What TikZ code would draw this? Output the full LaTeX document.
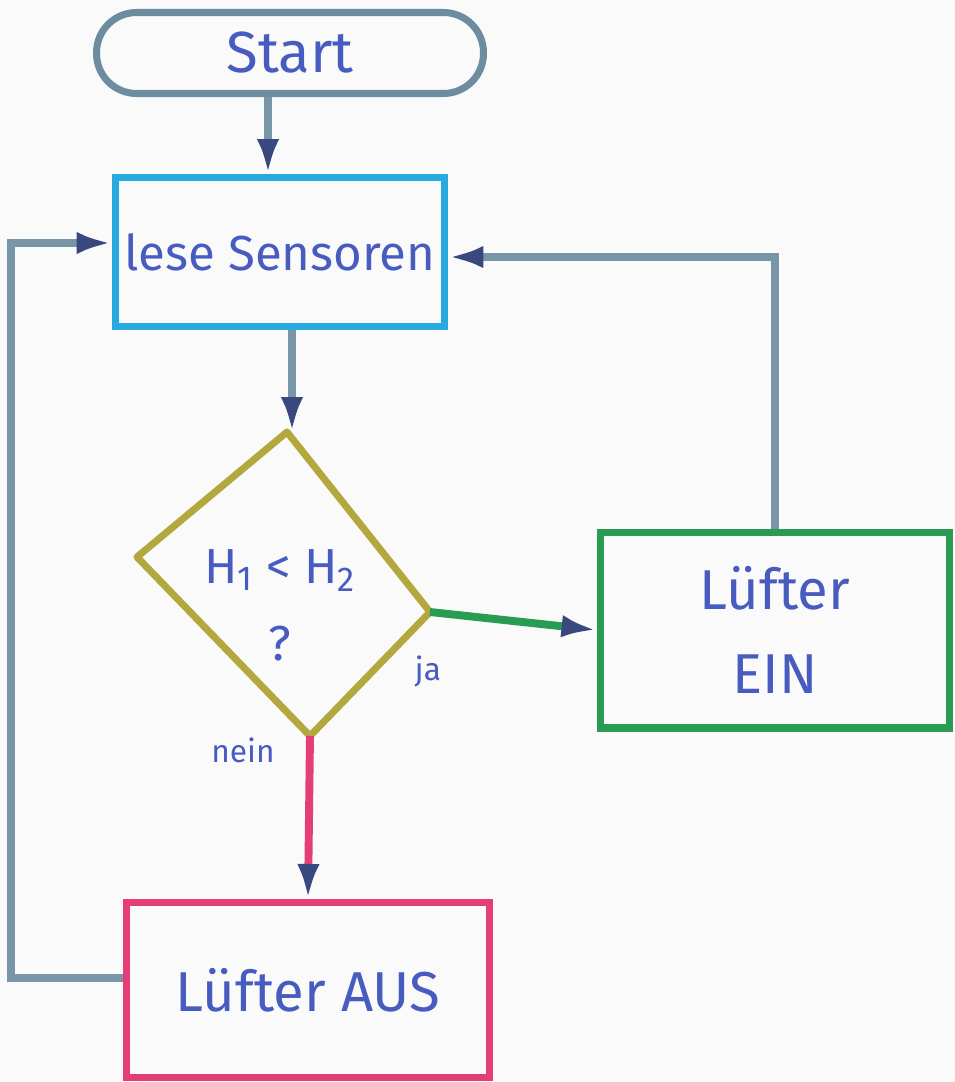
\documentclass[tikz,border=0pt]{standalone}
\usepackage{fontspec}
\setmainfont{Fira Sans}
\usetikzlibrary{arrows.meta,calc}
\definecolor{linec}{RGB}{120,150,168}
\definecolor{tipc}{RGB}{58,72,128}
\definecolor{startc}{RGB}{110,140,160}
\definecolor{lesec}{RGB}{40,170,225}
\definecolor{diac}{RGB}{178,168,62}
\definecolor{einc}{RGB}{42,155,82}
\definecolor{ausc}{RGB}{228,62,120}
\definecolor{inkc}{RGB}{72,92,192}
\begin{document}
\begin{tikzpicture}[x=0.02cm,y=-0.02cm,
  ink/.style={text=inkc,font=\fontsize{28}{34}\selectfont},
  boxc/.style={draw=#1,line width=4pt,rectangle,ink,align=center,inner sep=0pt},
  conn/.style={draw=linec,line width=4.5pt,-{Latex[length=0.7cm,width=0.45cm,color=tipc]}},
  lbl/.style={text=inkc,font=\fontsize{18}{22}\selectfont}]
\useasboundingbox (0,0) rectangle (955,1082);
\fill[white!96!gray] (0,0) rectangle (955,1082);
% nodes
\node[boxc=startc,rounded corners=0.8cm,minimum width=7.74cm,minimum height=1.62cm,font=\fontsize{33}{38}\selectfont] (start) at (290,53) {Start};
\node[boxc=lesec,minimum width=6.6cm,minimum height=2.98cm] (lese) at (280,252) {lese Sensoren};
\coordinate (dt) at (287,432);
\coordinate (dr) at (430,612);
\coordinate (db) at (310,736);
\coordinate (dl) at (137,557);
\draw[diac,line width=4pt,line join=round] (dt) -- (dr) -- (db) -- (dl) -- cycle;
\node[ink,align=center] (cond) at (280,605) {H\textsubscript{1} < H\textsubscript{2}\\[10pt]?};
\node[boxc=einc,minimum width=7cm,minimum height=3.92cm,font=\fontsize{32}{48}\selectfont] (ein) at (775,630) {Lüfter\\EIN};
\node[boxc=ausc,minimum width=7.26cm,minimum height=3.5cm,font=\fontsize{32}{38}\selectfont] (aus) at (308,990) {Lüfter AUS};
\node[lbl] (ja) at (428,672) {ja};
\node[lbl] (nein) at (243,750) {nein};
% connectors
\draw[conn] ([xshift=-0.44cm]start.south) -- ([xshift=-0.24cm]lese.north);
\draw[conn] ([xshift=0.24cm]lese.south) -- ([xshift=0.24cm]lese.south |- dt);
\draw[conn,draw=einc] (dr) -- (ein.west);
\draw[conn,draw=ausc] (db) -- (aus.north);
\draw[conn] (ein.north) |- ([yshift=-0.1cm]lese.east);
\draw[conn] ([yshift=0.24cm]aus.west) -- ++(-112,0) |- ([yshift=0.18cm]lese.west);
\end{tikzpicture}
\end{document}
